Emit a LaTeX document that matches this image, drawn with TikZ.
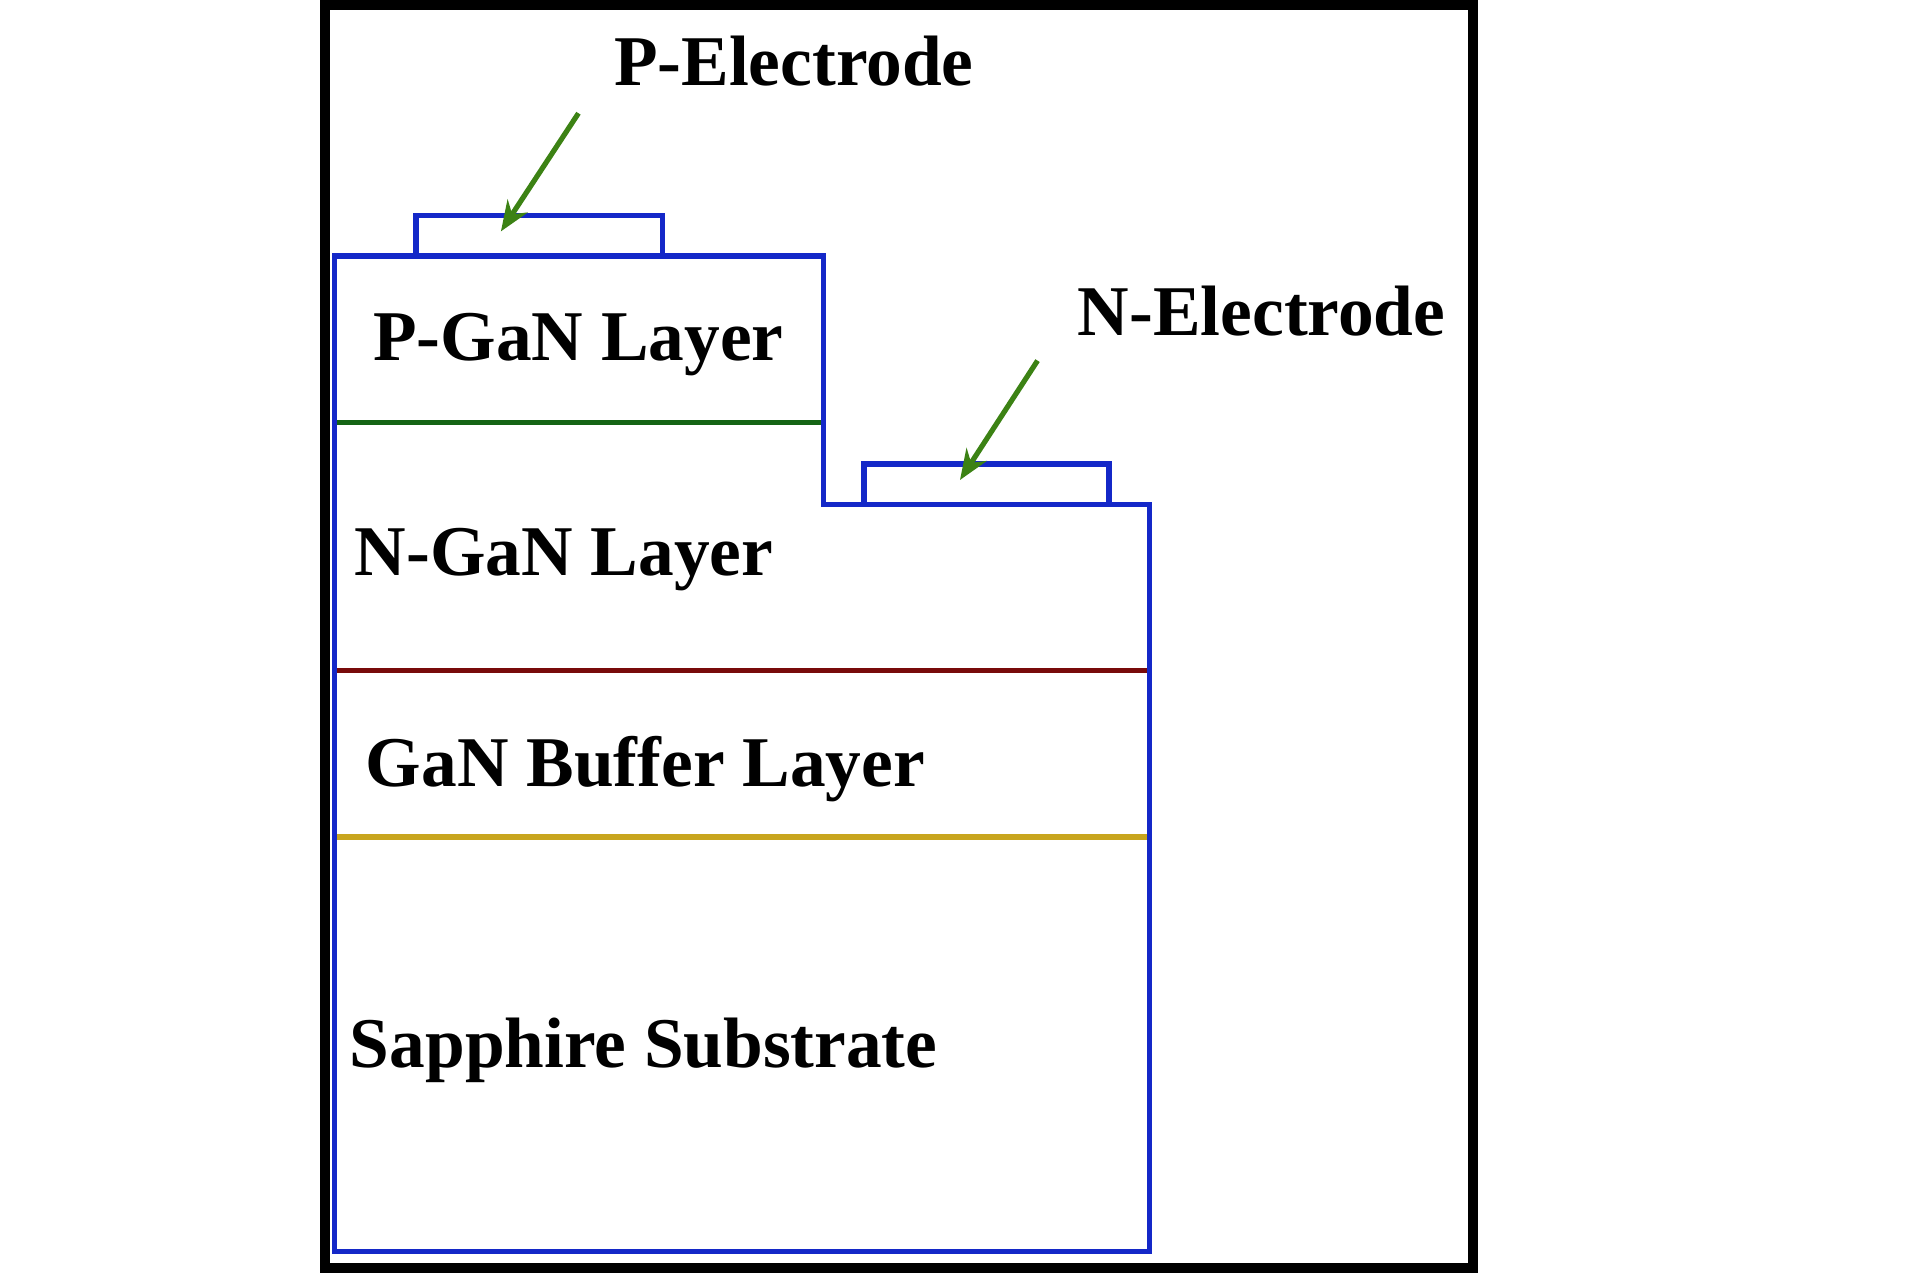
\documentclass[tikz,border=0pt]{standalone}
\usepackage{fontspec}
\setmainfont{Liberation Serif}
\usetikzlibrary{arrows.meta}
\begin{document}
\begin{tikzpicture}[x=0.02cm,y=-0.02cm,
  lbl/.style={font=\bfseries\fontsize{33}{40}\selectfont,inner sep=0pt},
  dev/.style={draw={rgb,255:red,20;green,40;blue,200},line width=2.4pt},
  arr/.style={draw={rgb,255:red,60;green,130;blue,20},line width=2.4pt,-{Stealth[length=14pt,width=11pt]}}]
\useasboundingbox (0,0) rectangle (1560,1040);
\draw[line width=4.6pt] (264,4) rectangle (1197,1030);
\draw[dev] (272,208) -- (669,208) -- (669,410) -- (934,410) -- (934,1017) -- (272,1017) -- cycle;
\draw[dev] (338,208) -- (338,175) -- (538,175) -- (538,208);
\draw[dev] (702,410) -- (702,377) -- (901,377) -- (901,410);
\draw[draw={rgb,255:red,20;green,100;blue,20},line width=2.4pt] (274,343) -- (667,343);
\draw[draw={rgb,255:red,120;green,10;blue,10},line width=2.4pt] (274,545) -- (932,545);
\draw[draw={rgb,255:red,200;green,165;blue,30},line width=2.4pt] (274,680) -- (932,680);
\node[lbl] (pe) at (645,50) {P-Electrode};
\node[lbl] (ne) at (1025,253) {N-Electrode};
\coordinate (pa) at (470,92); \coordinate (pt) at (407,188);
\coordinate (na) at (843,293); \coordinate (nt) at (780,390);
\draw[arr] (pa) -- (pt);
\draw[arr] (na) -- (nt);
\node[lbl] (pg) at (470,280) {P-GaN Layer};
\node[lbl,anchor=west] (ng) at (288,455) {N-GaN Layer};
\node[lbl,anchor=west] (gb) at (297,625) {GaN Buffer Layer};
\node[lbl,anchor=west] (ss) at (284,853) {Sapphire Substrate};
\end{tikzpicture}
\end{document}
